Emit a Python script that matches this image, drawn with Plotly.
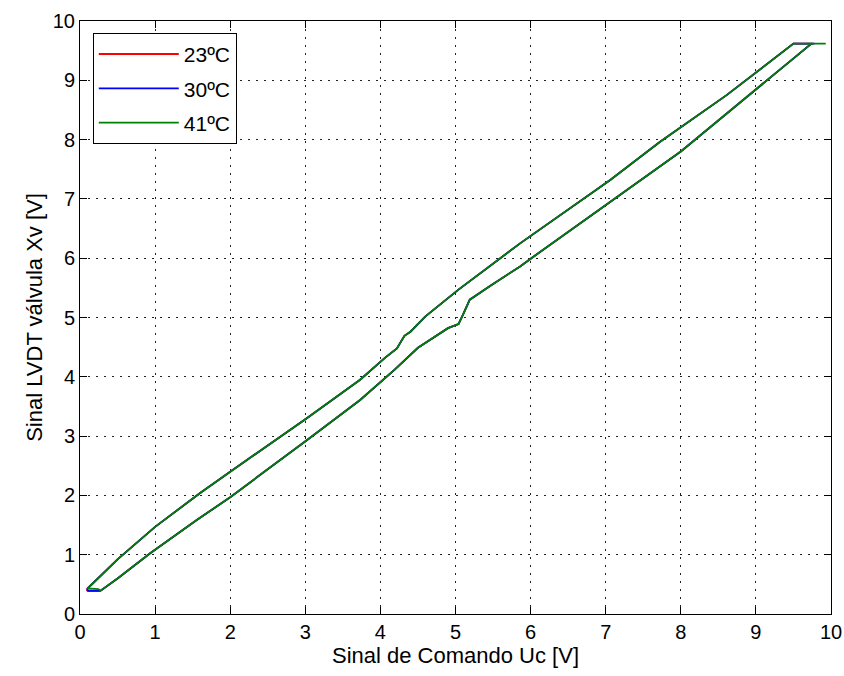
import plotly.graph_objects as go

# Lower branch (rising command)
lower_x = [0.27, 0.5, 0.93, 1.55, 2.0, 3.02, 3.73, 4.19, 4.5, 4.9, 5.04, 5.1, 5.19,
           5.48, 5.86, 6.01, 7.01, 7.72, 8.0, 8.89, 9.74]
lower_y = [0.39, 0.6, 1.02, 1.58, 1.97, 2.93, 3.61, 4.12, 4.49, 4.82, 4.89, 5.05, 5.3,
           5.55, 5.86, 6.0, 6.9, 7.54, 7.8, 8.73, 9.62]

# Upper branch (falling command), from top-right back to bottom-left
upper_x = [9.5, 8.61, 8.0, 7.72, 7.06, 6.0, 5.86, 5.04, 4.7, 4.6, 4.4, 4.32,
           4.22, 4.06, 3.73, 3.02, 2.0, 1.6, 1.0, 0.5, 0.1]
upper_y = [9.62, 8.75, 8.2, 7.96, 7.32, 6.37, 6.25, 5.47, 5.13, 5.02, 4.76, 4.69,
           4.48, 4.32, 3.95, 3.30, 2.40, 2.04, 1.47, 0.92, 0.43]

series_names = ["23ºC", "30ºC", "41ºC"]
series_colors = ["#ff0000", "#0000ff", "#008000"]
start_x = [0.09, 0.1, 0.25]      # start of bottom flat segment
start_y = [0.39, 0.39, 0.42]
top_end_x = [9.76, 9.78, 9.93]   # end of top flat segment
top_end_y = [9.62, 9.62, 9.62]

x_ticks = list(range(0, 11))
y_ticks = list(range(0, 11))

FONT = "Arial, Liberation Sans, sans-serif"

fig = go.Figure()
for i, name in enumerate(series_names):
    xs = [start_x[i]] + lower_x + [top_end_x[i]] + upper_x + [start_x[i]]
    ys = [start_y[i]] + lower_y + [top_end_y[i]] + upper_y + [start_y[i]]
    fig.add_trace(go.Scatter(
        x=xs, y=ys, mode="lines", name=name,
        line=dict(color=series_colors[i], width=1.8),
        legendgroup=name,
    ))

axis_common = dict(
    showline=True, linecolor="black", linewidth=1, mirror="ticks",
    ticks="inside", ticklen=7, tickcolor="black", tickwidth=1,
    showgrid=True, gridcolor="#222222", gridwidth=1, griddash="2px,6px",
    zeroline=False, automargin=False,
    tickfont=dict(family=FONT, size=20, color="black"),
)

fig.update_xaxes(range=[0, 10], tickvals=x_ticks,
                 title=dict(text="Sinal de Comando Uc [V]", font=dict(family=FONT, size=22, color="black"), standoff=4),
                 **axis_common)
fig.update_yaxes(range=[0, 10], tickvals=y_ticks,
                 title=dict(text="Sinal LVDT válvula Xv [V]", font=dict(family=FONT, size=22, color="black"), standoff=4),
                 **axis_common)

fig.update_layout(
    width=844, height=676,
    margin=dict(l=80, r=13, t=21, b=62),
    paper_bgcolor="white", plot_bgcolor="white",
    font=dict(family=FONT, size=20, color="black"),
    showlegend=True,
    legend=dict(x=0.017, y=0.98, xanchor="left", yanchor="top",
                bordercolor="black", borderwidth=1, bgcolor="white",
                itemwidth=80, tracegroupgap=4,
                font=dict(family=FONT, size=21, color="black")),
)

fig.write_html("out.html")
